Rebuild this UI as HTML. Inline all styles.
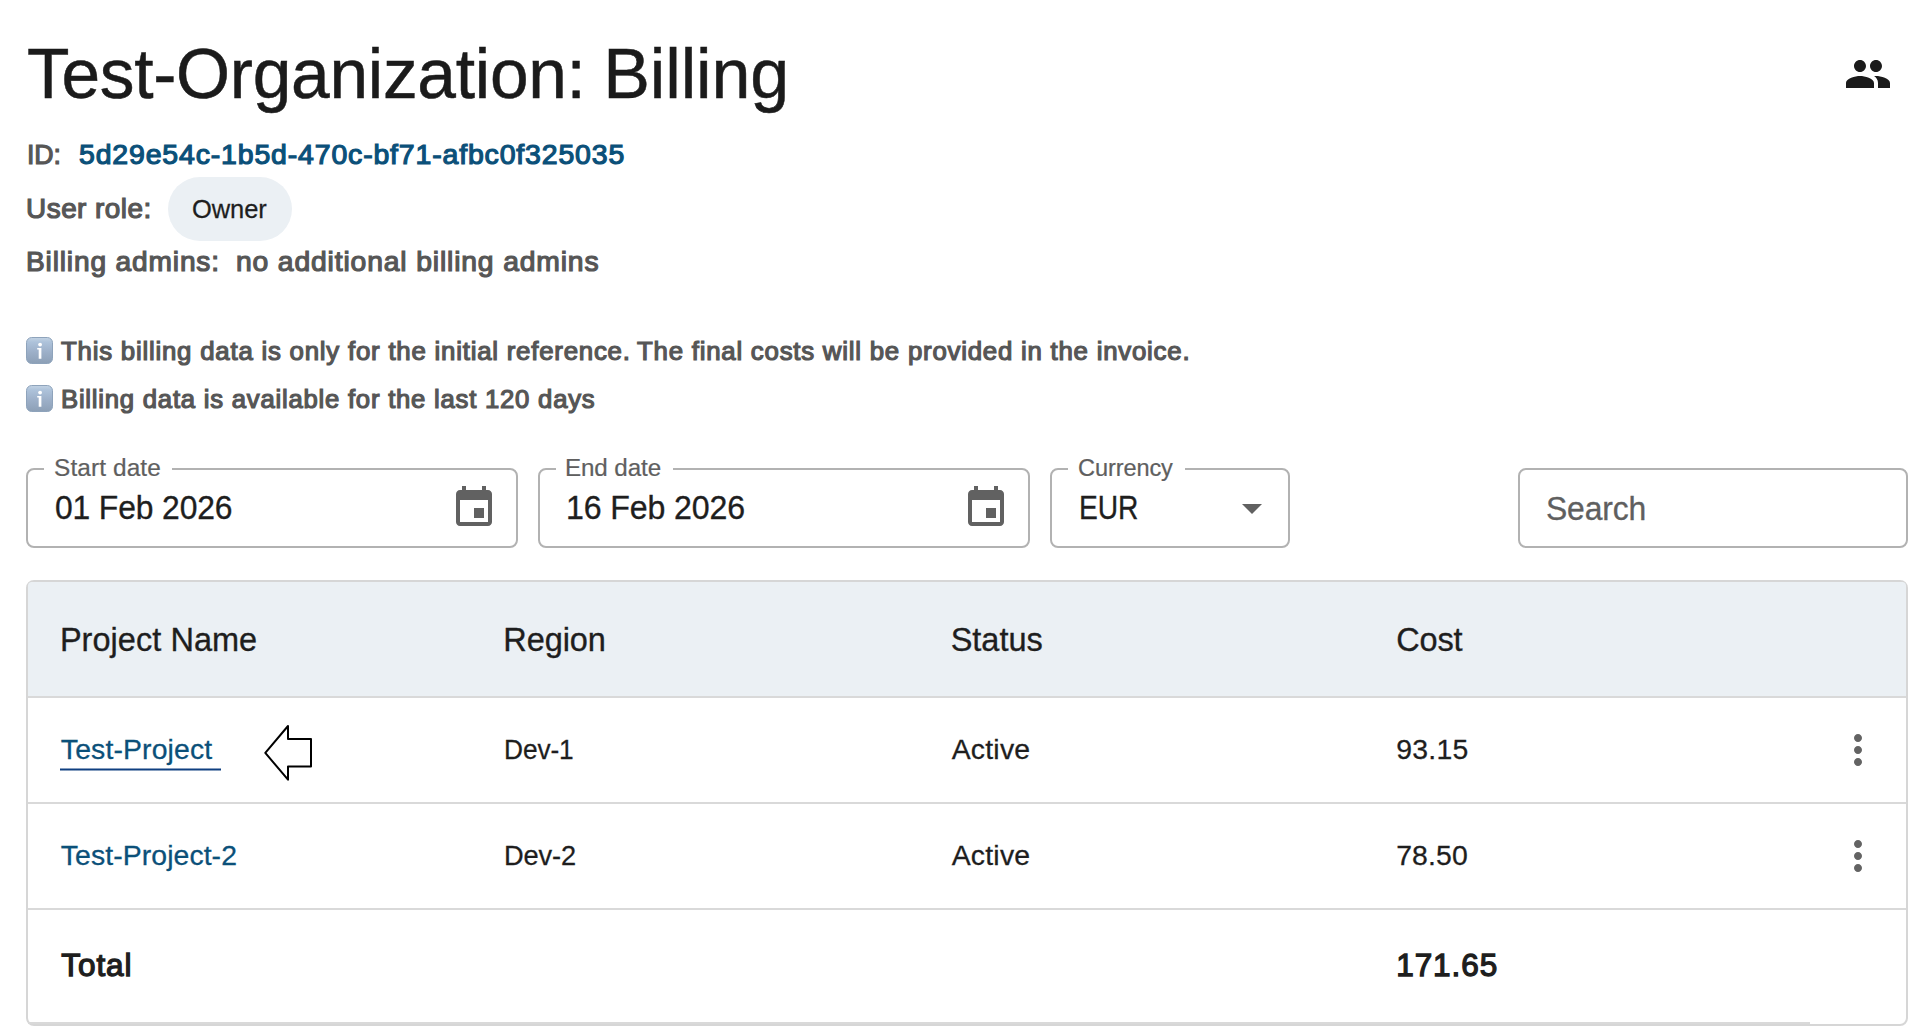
<!DOCTYPE html>
<html lang="en"><head><meta charset="utf-8"><title>Test-Organization: Billing</title>
<style>
html,body{margin:0;padding:0;background:#fff;}
body{width:1928px;height:1036px;position:relative;overflow:hidden;font-family:"Liberation Sans", Arial, sans-serif;}
.t{position:absolute;white-space:pre;font-weight:400;font-style:normal;text-decoration:none;margin:0;font-family:"Liberation Sans", Arial, sans-serif;font-kerning:normal;transform-origin:0 0;}

.a{position:absolute;box-sizing:border-box;}
.field{border:2px solid #b2b2b2;border-radius:8px;height:80px;top:468px;}
.notch{background:#fff;height:4px;top:467px;}
.chip{left:168px;top:177px;width:124px;height:64px;border-radius:32px;background:#ebf0f4;}
.tbl{left:26px;top:580px;width:1882px;height:446px;border:2px solid #d6d6d6;border-radius:8px;background:#fff;}
.hd{left:0;top:0;width:1878px;height:114px;background:#ebf0f4;border-radius:4px 4px 0 0;}
.ln{left:0;width:1878px;height:2px;background:#d9d9d9;}

</style></head><body>

<svg class="a" style="left:1844px;top:50px" width="48" height="48" viewBox="0 0 24 24"><path fill="#1b1b1b" d="M16 11c1.66 0 2.99-1.34 2.99-3S17.66 5 16 5c-1.66 0-3 1.34-3 3s1.34 3 3 3zm-8 0c1.66 0 2.99-1.34 2.99-3S9.660 5 8 5C6.340 5 5 6.340 5 8s1.340 3 3 3zm0 2c-2.330 0-7 1.170-7 3.500V19h14v-2.500c0-2.330-4.670-3.500-7-3.500zm8 0c-.29 0-.62.02-.97.05 1.160.84 1.970 1.970 1.970 3.450V19h6v-2.500c0-2.330-4.670-3.500-7-3.500z"/></svg>
<div class="a chip"></div>
<svg class="a" style="left:26px;top:337px" width="27" height="27" viewBox="0 0 27 27"><defs><linearGradient id="g1" x1="0" y1="0" x2="0" y2="1"><stop offset="0" stop-color="#c3d3e4"/><stop offset="0.18" stop-color="#adc2da"/><stop offset="0.55" stop-color="#9db0c9"/><stop offset="1" stop-color="#8c9fb6"/></linearGradient></defs><rect x="0.5" y="0.5" width="26" height="26" rx="5.2" fill="url(#g1)" stroke="#8ea3bb" stroke-width="1"/><circle cx="14.1" cy="7.6" r="1.9" fill="#fff"/><path d="M11.200 11.100h4.200v10.700h-2.700v-9.300h-1.500z" fill="#fff"/></svg>
<svg class="a" style="left:26px;top:385px" width="27" height="27" viewBox="0 0 27 27"><defs><linearGradient id="g2" x1="0" y1="0" x2="0" y2="1"><stop offset="0" stop-color="#c3d3e4"/><stop offset="0.18" stop-color="#adc2da"/><stop offset="0.55" stop-color="#9db0c9"/><stop offset="1" stop-color="#8c9fb6"/></linearGradient></defs><rect x="0.5" y="0.5" width="26" height="26" rx="5.2" fill="url(#g2)" stroke="#8ea3bb" stroke-width="1"/><circle cx="14.1" cy="7.6" r="1.9" fill="#fff"/><path d="M11.200 11.100h4.200v10.700h-2.700v-9.300h-1.500z" fill="#fff"/></svg>
<div class="a field" style="left:26px;width:492px"></div>
<div class="a field" style="left:538px;width:492px"></div>
<div class="a field" style="left:1050px;width:240px"></div>
<div class="a field" style="left:1518px;width:390px"></div>
<div class="a notch" style="left:44px;width:128px"></div>
<div class="a notch" style="left:556px;width:117px"></div>
<div class="a notch" style="left:1068px;width:117px"></div>
<svg class="a" style="left:450px;top:484px" width="48" height="48" viewBox="0 0 24 24"><path fill="#616161" d="M17 12h-5v5h5v-5zM16 1v2H8V1H6v2H5c-1.110 0-1.990.9-1.990 2L3 19c0 1.100.890 2 2 2h14c1.100 0 2-.9 2-2V5c0-1.100-.9-2-2-2h-1V1h-2zm3 18H5V8h14v11z"/></svg>
<svg class="a" style="left:962px;top:484px" width="48" height="48" viewBox="0 0 24 24"><path fill="#616161" d="M17 12h-5v5h5v-5zM16 1v2H8V1H6v2H5c-1.110 0-1.990.9-1.990 2L3 19c0 1.100.890 2 2 2h14c1.100 0 2-.9 2-2V5c0-1.100-.9-2-2-2h-1V1h-2zm3 18H5V8h14v11z"/></svg>
<svg class="a" style="left:1228px;top:484px" width="48" height="48" viewBox="0 0 24 24"><path fill="#616161" d="M7 10l5 5 5-5z"/></svg>
<div class="a tbl">
<div class="a hd"></div>
<div class="a ln" style="top:114px"></div>
<div class="a ln" style="top:220px"></div>
<div class="a ln" style="top:326px"></div>
<div class="a ln" style="top:440px;width:1782px"></div>
</div>
<div class="a" style="left:60px;top:768px;width:161px;height:3px;background:linear-gradient(rgba(15,63,128,.5) 0 1px,#0f3f80 1px 2px,rgba(15,63,128,.5) 2px 3px)"></div>
<svg class="a" style="left:256px;top:716px" width="64" height="72" viewBox="256 716 64 72"><path fill="none" stroke="#000" stroke-width="2" stroke-linejoin="round" d="M265.300 752.9 L288 726 L288 739.100 L311 739.100 L311 766.600 L288 766.600 L288 779.700 Z"/></svg>
<svg class="a" style="left:1834px;top:726px" width="48" height="48" viewBox="0 0 24 24"><path fill="#636363" d="M12 8c1.100 0 2-.9 2-2s-.9-2-2-2-2 .9-2 2 .9 2 2 2zm0 2c-1.100 0-2 .9-2 2s.9 2 2 2 2-.9 2-2-.9-2-2-2zm0 6c-1.100 0-2 .9-2 2s.9 2 2 2 2-.9 2-2-.9-2-2-2z"/></svg>
<svg class="a" style="left:1834px;top:832px" width="48" height="48" viewBox="0 0 24 24"><path fill="#636363" d="M12 8c1.100 0 2-.9 2-2s-.9-2-2-2-2 .9-2 2 .9 2 2 2zm0 2c-1.100 0-2 .9-2 2s.9 2 2 2 2-.9 2-2-.9-2-2-2zm0 6c-1.100 0-2 .9-2 2s.9 2 2 2 2-.9 2-2-.9-2-2-2z"/></svg>

<h1 style="display:contents"><span class="t" style="left:26.66px;top:32.00px;font-size:70px;line-height:84px;letter-spacing:-0.280px;color:#1b1b1b;-webkit-text-stroke:0.5px #1b1b1b;transform:scaleX(0.9922);">Test-Organization: </span>
<span class="t" style="left:603.25px;top:32.00px;font-size:70px;line-height:84px;letter-spacing:-0.121px;color:#1b1b1b;-webkit-text-stroke:0.5px #1b1b1b;">Billing</span></h1>
<span class="t" style="left:26.59px;top:138.00px;font-size:27.9px;line-height:33px;letter-spacing:-0.112px;color:#565656;-webkit-text-stroke:1.2px #565656;transform:scaleX(0.9568);">ID:</span>
<a class="t" style="left:78.68px;top:138.00px;font-size:27.9px;line-height:33px;letter-spacing:0.837px;color:#0b5079;-webkit-text-stroke:1.2px #0b5079;transform:scaleX(1.0195);">5d29e54c-1b5d-470c-bf71-afbc0f325035</a>
<span class="t" style="left:26.10px;top:192.00px;font-size:27.9px;line-height:33px;letter-spacing:0.473px;color:#565656;-webkit-text-stroke:1.2px #565656;">User role:</span>
<span class="t" style="left:191.96px;top:193.00px;font-size:26.4px;line-height:32px;letter-spacing:-0.106px;color:#1e1e1e;-webkit-text-stroke:0.26px #1e1e1e;transform:scaleX(0.9663);">Owner</span>
<span class="t" style="left:26.38px;top:245.00px;font-size:27.9px;line-height:33px;letter-spacing:0.837px;color:#565656;-webkit-text-stroke:1.2px #565656;transform:scaleX(1.0081);">Billing admins:</span>
<span class="t" style="left:236.29px;top:245.00px;font-size:27.9px;line-height:33px;letter-spacing:0.837px;color:#565656;-webkit-text-stroke:1.2px #565656;transform:scaleX(1.0142);">no additional billing admins</span>
<span class="t" style="left:60.90px;top:336.00px;font-size:25.2px;line-height:30px;letter-spacing:0.756px;color:#565656;-webkit-text-stroke:1.2px #565656;transform:scaleX(1.0248);">This billing data is only for the initial reference. </span>
<span class="t" style="left:637.10px;top:336.00px;font-size:25.2px;line-height:30px;letter-spacing:0.756px;color:#565656;-webkit-text-stroke:1.2px #565656;transform:scaleX(1.0241);">The final costs will be provided in the invoice.</span>
<span class="t" style="left:60.56px;top:384.00px;font-size:25.2px;line-height:30px;letter-spacing:0.756px;color:#565656;-webkit-text-stroke:1.2px #565656;transform:scaleX(1.0195);">Billing data is available for the last 120 days</span>
<span class="t" style="left:54.12px;top:453.00px;font-size:24.4px;line-height:29px;letter-spacing:0.097px;color:#5f5f5f;-webkit-text-stroke:0.24px #5f5f5f;">Start date</span>
<span class="t" style="left:564.94px;top:453.00px;font-size:24.4px;line-height:29px;letter-spacing:-0.098px;color:#5f5f5f;-webkit-text-stroke:0.24px #5f5f5f;transform:scaleX(0.9911);">End date</span>
<span class="t" style="left:1078.15px;top:453.00px;font-size:24.4px;line-height:29px;letter-spacing:-0.098px;color:#5f5f5f;-webkit-text-stroke:0.24px #5f5f5f;transform:scaleX(0.9653);">Currency</span>
<span class="t" style="left:54.79px;top:489.00px;font-size:32.5px;line-height:39px;letter-spacing:-0.130px;color:#1e1e1e;-webkit-text-stroke:0.33px #1e1e1e;transform:scaleX(0.9795);">01 Feb 2026</span>
<span class="t" style="left:565.59px;top:489.00px;font-size:32.5px;line-height:39px;letter-spacing:-0.130px;color:#1e1e1e;-webkit-text-stroke:0.33px #1e1e1e;transform:scaleX(0.9884);">16 Feb 2026</span>
<span class="t" style="left:1078.63px;top:489.00px;font-size:32.5px;line-height:39px;letter-spacing:-0.130px;color:#1e1e1e;-webkit-text-stroke:0.33px #1e1e1e;transform:scaleX(0.8672);">EUR</span>
<span class="t" style="left:1545.98px;top:490.00px;font-size:32.5px;line-height:39px;letter-spacing:-0.130px;color:#5f5f5f;-webkit-text-stroke:0.33px #5f5f5f;transform:scaleX(0.9801);">Search</span>
<span class="t" style="left:59.91px;top:621.00px;font-size:32.5px;line-height:39px;letter-spacing:0.038px;color:#1e1e1e;-webkit-text-stroke:0.33px #1e1e1e;">Project Name</span>
<span class="t" style="left:503.37px;top:621.00px;font-size:32.5px;line-height:39px;letter-spacing:-0.089px;color:#1e1e1e;-webkit-text-stroke:0.33px #1e1e1e;">Region</span>
<span class="t" style="left:950.66px;top:621.00px;font-size:32.5px;line-height:39px;letter-spacing:-0.003px;color:#1e1e1e;-webkit-text-stroke:0.33px #1e1e1e;">Status</span>
<span class="t" style="left:1396.16px;top:621.00px;font-size:32.5px;line-height:39px;letter-spacing:-0.142px;color:#1e1e1e;-webkit-text-stroke:0.33px #1e1e1e;">Cost</span>
<a class="t" style="left:60.84px;top:732.00px;font-size:28.4px;line-height:34px;letter-spacing:0.130px;color:#0b5079;-webkit-text-stroke:0.28px #0b5079;">Test-Project</a>
<span class="t" style="left:504.49px;top:732.00px;font-size:28.4px;line-height:34px;letter-spacing:-0.114px;color:#1e1e1e;-webkit-text-stroke:0.28px #1e1e1e;transform:scaleX(0.9260);">Dev-1</span>
<span class="t" style="left:951.64px;top:732.00px;font-size:28.4px;line-height:34px;letter-spacing:0.240px;color:#1e1e1e;-webkit-text-stroke:0.28px #1e1e1e;">Active</span>
<span class="t" style="left:1396.14px;top:732.00px;font-size:28.4px;line-height:34px;letter-spacing:0.266px;color:#1e1e1e;-webkit-text-stroke:0.28px #1e1e1e;">93.15</span>
<a class="t" style="left:60.84px;top:838.00px;font-size:28.4px;line-height:34px;letter-spacing:0.076px;color:#0b5079;-webkit-text-stroke:0.28px #0b5079;">Test-Project-2</a>
<span class="t" style="left:504.42px;top:838.00px;font-size:28.4px;line-height:34px;letter-spacing:-0.114px;color:#1e1e1e;-webkit-text-stroke:0.28px #1e1e1e;transform:scaleX(0.9591);">Dev-2</span>
<span class="t" style="left:951.64px;top:838.00px;font-size:28.4px;line-height:34px;letter-spacing:0.240px;color:#1e1e1e;-webkit-text-stroke:0.28px #1e1e1e;">Active</span>
<span class="t" style="left:1396.14px;top:838.00px;font-size:28.4px;line-height:34px;letter-spacing:0.166px;color:#1e1e1e;-webkit-text-stroke:0.28px #1e1e1e;">78.50</span>
<strong class="t" style="left:61.35px;top:946.00px;font-size:31.5px;line-height:38px;letter-spacing:0.915px;color:#1e1e1e;-webkit-text-stroke:1.3px #1e1e1e;">Total</strong>
<strong class="t" style="left:1396.25px;top:946.00px;font-size:31.5px;line-height:38px;letter-spacing:0.915px;color:#1e1e1e;-webkit-text-stroke:1.3px #1e1e1e;">171.65</strong>
</body></html>
